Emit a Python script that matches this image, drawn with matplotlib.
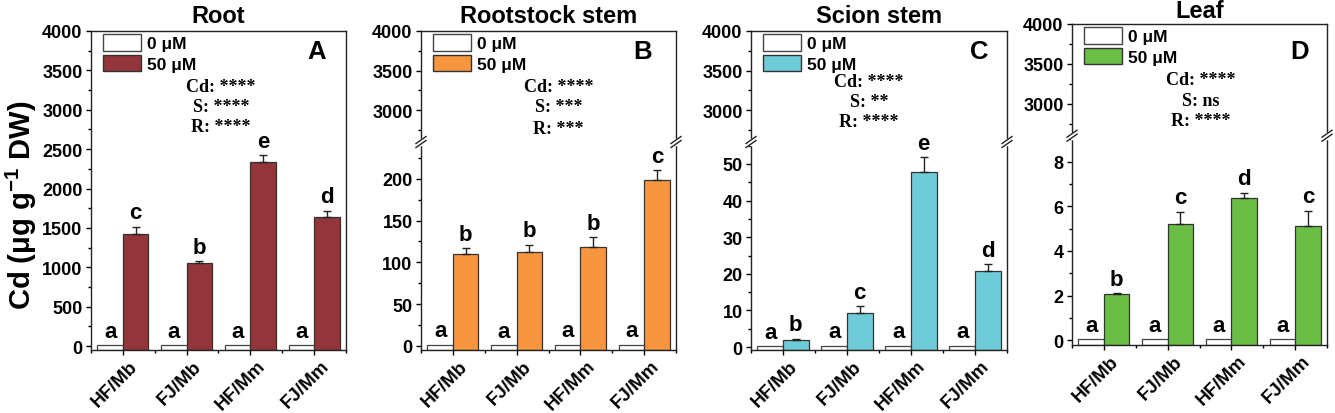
import numpy as np
import matplotlib
matplotlib.use("Agg")
import matplotlib.pyplot as plt
from matplotlib.patches import Patch
from matplotlib.ticker import FixedLocator, FuncFormatter
from matplotlib.transforms import ScaledTranslation

plt.rcParams['font.family'] = ['Liberation Sans', 'DejaVu Sans']
plt.rcParams['mathtext.fontset'] = 'custom'
plt.rcParams['mathtext.bf'] = 'Liberation Sans:bold'
plt.rcParams['mathtext.rm'] = 'Liberation Sans:bold'

categories = ['HF/Mb', 'FJ/Mb', 'HF/Mm', 'FJ/Mm']
titles = ['Root', 'Rootstock stem', 'Scion stem', 'Leaf']
panel_tags = ['A', 'B', 'C', 'D']
colors = ['#933539', '#F7963F', '#6ECBD8', '#6BBE45']

ctrl_vals = [[12, 10, 11, 12], [1.2, 1.0, 1.1, 1.3], [0.25, 0.3, 0.3, 0.3], [0.05, 0.05, 0.05, 0.05]]
cd_vals = [[1422, 1054, 2333, 1642], [110, 112, 118, 198], [2.0, 9.4, 47.9, 20.9], [2.05, 5.23, 6.37, 5.1]]
cd_err = [[93, 20, 93, 76], [7, 9, 12, 12], [0.3, 1.7, 4.0, 1.7], [0.06, 0.52, 0.25, 0.7]]
ctrl_letters = [['a'] * 4] * 4
cd_letters = [['c', 'b', 'e', 'd'], ['b', 'b', 'b', 'c'], ['b', 'c', 'e', 'd'], ['b', 'c', 'd', 'c']]
stats = [['****', '****', '****'], ['****', '***', '***'], ['****', '**', '****'], ['****', 'ns', '****']]
legend_labels = ['0 μM', '50 μM']

# axis layout (pixels) : left, right, top, bottom
W, H = 1335, 414
boxes = [(91, 346, 32, 351), (421, 676, 32, 351), (751, 1007, 32, 351), (1072, 1327, 25, 346)]
lower = [None, (-5, 244), (-0.8, 56), (-0.22, 9.17)]
upper = (2600, 4000)
brk = 0.652
lower_major = [None, [0, 50, 100, 150, 200], [0, 10, 20, 30, 40, 50], [0, 2, 4, 6, 8]]
lower_minor = [None, [25, 75, 125, 175, 225], [5, 15, 25, 35, 45, 55], [1, 3, 5, 7, 9]]
stat_pos = [(0.51, [55.7, 75.7, 95.7]), (0.54, [56, 76, 97]), (0.46, [50.7, 70.7, 90.7]), (0.505, [55.7, 76.7, 96.7])]
tag_pos = [(0.885, 20), (0.87, 20), (0.89, 20), (0.894, 27)]
title_pad = [6.5, 6.5, 6.5, 5]

fig = plt.figure(figsize=(W / 100, H / 100), dpi=100)
x = np.arange(len(categories))
bw = 0.4
xshift = ScaledTranslation(6 / 100, 0, fig.dpi_scale_trans)

def make_scale(l0, l1, u0, u1, f):
    def fwd(y):
        y = np.asarray(y, dtype=float)
        lo = (y - l0) / (l1 - l0) * f
        hi = f + (y - u0) / (u1 - u0) * (1 - f)
        return np.where(y <= l1, lo, np.where(y >= u0, hi, f))
    def inv(t):
        t = np.asarray(t, dtype=float)
        return np.where(t <= f, l0 + t / f * (l1 - l0), u0 + (t - f) / (1 - f) * (u1 - u0))
    return fwd, inv

for i in range(4):
    L, R, T, B = boxes[i]
    ax = fig.add_axes([L / W, 1 - B / H, (R - L) / W, (B - T) / H])
    axh = B - T
    axw = R - L
    if lower[i] is None:
        ymin, ymax = -50, 4000
        ax.set_ylim(ymin, ymax)
        ax.yaxis.set_major_locator(FixedLocator(np.arange(0, 4001, 500)))
        ax.yaxis.set_minor_locator(FixedLocator(np.arange(250, 4000, 500)))
    else:
        l0, l1 = lower[i]
        fwd, inv = make_scale(l0, l1, upper[0], upper[1], brk)
        ax.set_yscale('function', functions=(fwd, inv))
        ymin, ymax = l0, upper[1]
        ax.set_ylim(ymin, ymax)
        ax.yaxis.set_major_locator(FixedLocator(lower_major[i] + [3000, 3500, 4000]))
        ax.yaxis.set_minor_locator(FixedLocator(lower_minor[i] + [2750, 3250, 3750]))
        ax.yaxis.set_major_formatter(FuncFormatter(lambda v, p: f'{v:g}'))
    ax.set_xlim(-0.5, 3.5)
    c = np.array(ctrl_vals[i], dtype=float)
    v = np.array(cd_vals[i], dtype=float)
    e = np.array(cd_err[i], dtype=float)
    ax.bar(x - bw / 2, c - ymin, bw, bottom=ymin, color='white', edgecolor='#444444', linewidth=0.9, zorder=2)
    ax.bar(x + bw / 2, v - ymin, bw, bottom=ymin, color=colors[i], edgecolor='#333333', linewidth=0.9, zorder=2)
    ax.errorbar(x + bw / 2, v, yerr=[np.zeros_like(e), e], fmt='none', ecolor='#222222',
                elinewidth=1.0, capsize=3, capthick=1.0, zorder=3)
    for j in range(4):
        ax.annotate(ctrl_letters[i][j], (x[j] - bw / 2, c[j]), xytext=(0, 2.5), textcoords='offset points',
                    ha='center', va='bottom', fontsize=16, fontweight='bold')
        ax.annotate(cd_letters[i][j], (x[j] + bw / 2, v[j] + e[j]), xytext=(0, 2.5), textcoords='offset points',
                    ha='center', va='bottom', fontsize=16, fontweight='bold')
    ax.set_xticks(x)
    ax.set_xticks(np.arange(-0.5, 3.6, 1.0), minor=True)
    ax.set_xticklabels(categories, rotation=45, ha='right', va='top', rotation_mode='anchor',
                       fontsize=13.5, fontweight='bold')
    ax.tick_params(axis='both', which='major', direction='out', length=3.6, width=1, labelsize=13)
    ax.tick_params(axis='x', which='major', labelsize=13.5, pad=1.5)
    ax.tick_params(axis='both', which='minor', direction='out', length=2.2, width=1)
    ax.tick_params(axis='y', pad=2.5)
    for lab in ax.get_yticklabels() + ax.get_xticklabels():
        lab.set_fontweight('bold')
    for lab in ax.get_xticklabels():
        lab.set_transform(lab.get_transform() + xshift)
    for s in ax.spines.values():
        s.set_linewidth(1.0)
        s.set_color('#222222')
    ax.set_title(titles[i], fontsize=17, fontweight='bold', pad=title_pad[i])
    handles = [Patch(facecolor='white', edgecolor='#444444', linewidth=1.0),
               Patch(facecolor=colors[i], edgecolor='#333333', linewidth=1.0)]
    ax.legend(handles, legend_labels, loc='upper left', bbox_to_anchor=(12 / axw, 1 - 3 / axh),
              frameon=False, borderaxespad=0, borderpad=0, handlelength=2.2, handleheight=1.1,
              handletextpad=0.35, labelspacing=0.2, prop={'weight': 'bold', 'size': 12.5})
    tx, ty = tag_pos[i]
    ax.text(tx, 1 - ty / axh, panel_tags[i], transform=ax.transAxes, ha='center', va='center',
            fontsize=18.5, fontweight='bold')
    sx, sys_ = stat_pos[i]
    for k, (nm, st) in enumerate(zip(['Cd:', 'S:', 'R:'], stats[i])):
        ax.text(sx, 1 - sys_[k] / axh, f'{nm} {st}', transform=ax.transAxes, ha='center', va='center',
                fontsize=13, fontweight='bold', family=['Liberation Serif', 'DejaVu Serif'])
    if lower[i] is not None:
        gap = 4 / axh
        dx, dy = 5 / axw, 3.5 / axh
        for xs in (0, 1):
            ax.plot([xs, xs], [brk - gap / 2, brk + gap / 2], transform=ax.transAxes, color='white',
                    lw=2.5, clip_on=False, zorder=5)
            for off in (-gap / 2, gap / 2):
                ax.plot([xs - dx, xs + dx], [brk + off - dy, brk + off + dy], transform=ax.transAxes,
                        color='#222222', lw=1.0, clip_on=False, zorder=6)

fig.text(21 / W, 1 - 205 / H, 'Cd (μg g$^{\\mathbf{-1}}$ DW)', rotation=90, ha='center', va='center',
         fontsize=21, fontweight='bold')

fig.savefig('out.png', dpi=100)
